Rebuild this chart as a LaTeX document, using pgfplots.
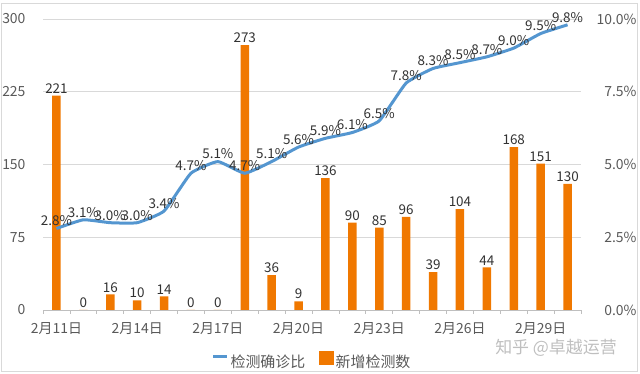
\documentclass[border=0pt]{standalone}
\usepackage{pgfplots}
\pgfplotsset{compat=1.18}
\usepackage{fontspec}
\setmainfont{Noto Sans CJK SC}
\definecolor{barorange}{RGB}{240,120,0}
\definecolor{lineblue}{RGB}{84,150,208}
\definecolor{gridgray}{RGB}{217,217,217}
\definecolor{axisgray}{RGB}{191,191,191}
\definecolor{labelgray}{RGB}{89,89,89}
\definecolor{datagray}{RGB}{50,50,50}
\begin{document}
\begin{tikzpicture}
\useasboundingbox (0,0) rectangle (640bp,374bp);
\draw[gray!30, line width=0.8bp] (1.5bp,2.5bp) rectangle (637bp,371bp);
\begin{axis}[
  at={(43bp,64bp)}, anchor=south west,
  width=538bp, height=291bp, scale only axis,
  xmin=-0.5, xmax=19.5, ymin=0, ymax=300,
  enlargelimits=false,
  /pgf/number format/assume math mode=true,
  ybar, bar width=8.5bp,
  axis x line*=bottom, axis y line*=left,
  y axis line style={draw=none},
  x axis line style={axisgray, line width=0.8bp},
  ytick={0,75,150,225,300},
  ymajorgrids, grid style={gridgray, line width=0.8bp},
  xtick={0,3,6,9,12,15,18},
  xticklabels={2月11日,2月14日,2月17日,2月20日,2月23日,2月26日,2月29日},
  minor xtick={-0.5,0.5,...,19.5},
  tick align=outside,
  major tick length=0pt, minor tick length=4bp,
  minor tick style={axisgray, line width=0.8bp},
  xticklabel style={font=\fontsize{14}{16}\selectfont, text=labelgray, yshift=-9bp},
  yticklabel style={font=\fontsize{14}{16}\selectfont, text=labelgray, xshift=-14bp},
  nodes near coords,
  every node near coord/.append style={font=\fontsize{13.5}{15}\selectfont, text=datagray, inner sep=2bp},
]
\addplot[fill=barorange, draw=none] coordinates {
 (0,221) (1,0) (2,16) (3,10) (4,14) (5,0) (6,0) (7,273) (8,36) (9,9)
 (10,136) (11,90) (12,85) (13,96) (14,39) (15,104) (16,44) (17,168) (18,151) (19,130)};
\end{axis}
\begin{axis}[
  at={(43bp,64bp)}, anchor=south west,
  width=538bp, height=291bp, scale only axis,
  xmin=-0.5, xmax=19.5, ymin=0, ymax=10,
  enlargelimits=false,
  /pgf/number format/assume math mode=true,
  axis y line*=right, axis x line=none,
  y axis line style={draw=none},
  ytick={0,2.5,5,7.5,10},
  yticklabels={0.0\%,2.5\%,5.0\%,7.5\%,10.0\%},
  major tick length=0pt,
  yticklabel style={font=\fontsize{14}{16}\selectfont, text=labelgray, anchor=east, xshift=59bp},
  legend style={at={(0.5,-0.175)}, anchor=center, draw=none, fill=none,
    legend columns=2, font=\fontsize{15}{17}\selectfont, text=labelgray,
    /tikz/every even column/.append style={column sep=12bp}},
  legend cell align=left,
]
\addplot[lineblue, line width=3bp, smooth, tension=0.25, mark=none,
  nodes near coords={\pgfmathprintnumber[fixed,fixed zerofill,precision=1]{\pgfplotspointmeta}\%},
  every node near coord/.append style={font=\fontsize{13.5}{15}\selectfont, text=datagray, anchor=south, inner sep=1bp},
  legend image code/.code={\draw[lineblue, line width=3bp] (0bp,5bp) -- (14bp,5bp);}]
 coordinates {
 (0,2.8) (1,3.1) (2,3.0) (3,3.0) (4,3.4) (5,4.7) (6,5.1) (7,4.7) (8,5.1) (9,5.6)
 (10,5.9) (11,6.1) (12,6.5) (13,7.8) (14,8.3) (15,8.5) (16,8.7) (17,9.0) (18,9.5) (19,9.8)};
\addlegendentry{检测确诊比}
\addlegendimage{legend image code/.code={\fill[barorange] (0bp,-2bp) rectangle (14bp,11bp);}}
\addlegendentry{新增检测数}
\end{axis}
\node[text=black!25, font=\fontsize{17}{20}\selectfont] at (556bp,26bp) {知乎 @卓越运营};
\end{tikzpicture}
\end{document}
